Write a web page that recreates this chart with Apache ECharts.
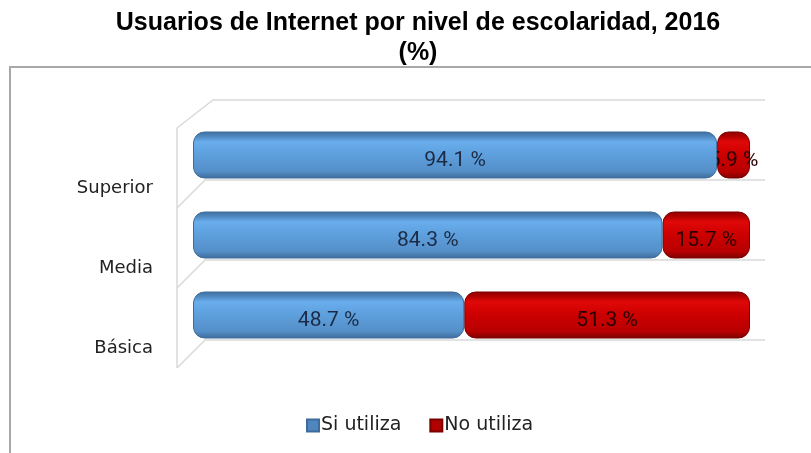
<!DOCTYPE html>
<html>
<head>
<meta charset="utf-8">
<script src="https://cdn.jsdelivr.net/npm/echarts@6/dist/echarts.min.js"></script>
<style>html,body{margin:0;padding:0;background:#fff}#c{width:811px;height:453px}</style>
</head>
<body>
<div id="c"></div>
<script>
const categories = ['Básica', 'Media', 'Superior'];
const siUtiliza = [48.7, 84.3, 94.1];
const noUtiliza = [51.3, 15.7, 5.9];
const seriesNames = ['Si utiliza', 'No utiliza'];
const titleText = 'Usuarios de Internet por nivel de escolaridad, 2016\n(%)';

const chart = echarts.init(document.getElementById('c'), null, {renderer: 'canvas'});

const blueGrad = new echarts.graphic.LinearGradient(0, 0, 0, 1, [
  {offset: 0, color: '#3f6f9f'},
  {offset: 0.1, color: '#4f86bd'},
  {offset: 0.22, color: '#69aded'},
  {offset: 0.5, color: '#5d9fdc'},
  {offset: 0.85, color: '#558fc8'},
  {offset: 1, color: '#3c6a98'}
]);
const redGrad = new echarts.graphic.LinearGradient(0, 0, 0, 1, [
  {offset: 0, color: '#8c0000'},
  {offset: 0.1, color: '#b00000'},
  {offset: 0.22, color: '#e00808'},
  {offset: 0.5, color: '#cc0000'},
  {offset: 0.85, color: '#b80000'},
  {offset: 1, color: '#7a0000'}
]);

const labelFont = {fontFamily: 'Roboto', fontSize: 21};

chart.setOption({
  animation: false,
  title: {
    text: titleText, left: 413, textAlign: 'center', top: 3, padding: 5,
    textStyle: {fontFamily: 'Liberation Sans', fontWeight: 'bold', fontSize: 25, lineHeight: 30, color: '#000'}
  },
  legend: {
    bottom: 13, left: 301, itemWidth: 12, itemHeight: 12, itemGap: 28,
    icon: 'rect',
    textStyle: {fontFamily: 'DejaVu Sans', fontSize: 19, color: '#222', padding: [0, 0, 0, -3]},
    data: [
      {name: seriesNames[0], itemStyle: {color: '#4f86bd'}},
      {name: seriesNames[1], itemStyle: {color: '#b00000'}}
    ]
  },
  grid: {left: 193, right: 61, top: 115, bottom: 98, containLabel: false},
  xAxis: {type: 'value', min: 0, max: 100, show: false},
  yAxis: {
    type: 'category', data: categories,
    axisLine: {show: false}, axisTick: {show: false}, splitLine: {show: false},
    axisLabel: {
      margin: 40, color: '#222', fontFamily: 'DejaVu Sans', fontSize: 18,
      verticalAlign: 'top', padding: [24, 0, 0, 0]
    }
  },
  graphic: [
    {type: 'rect', shape: {x: 10, y: 67, width: 900, height: 500}, style: {fill: 'none', stroke: '#a8a8a8', lineWidth: 2}, silent: true, z: -10},
    {type: 'polyline', shape: {points: [[177, 368], [177, 128], [213, 100], [765, 100]]}, style: {stroke: '#d9d9d9', lineWidth: 1.5, fill: 'none'}, z: -5},
    {type: 'polyline', shape: {points: [[177, 208], [205, 180], [765, 180]]}, style: {stroke: '#d9d9d9', lineWidth: 1.5, fill: 'none'}, z: -5},
    {type: 'polyline', shape: {points: [[177, 288], [205, 260], [765, 260]]}, style: {stroke: '#d9d9d9', lineWidth: 1.5, fill: 'none'}, z: -5},
    {type: 'polyline', shape: {points: [[177, 368], [205, 340], [765, 340]]}, style: {stroke: '#d9d9d9', lineWidth: 1.5, fill: 'none'}, z: -5}
  ],
  series: [
    {
      name: seriesNames[0], type: 'bar', stack: 'a', data: siUtiliza, barWidth: 47,
      itemStyle: {color: blueGrad, borderRadius: 11, borderColor: '#3d6c9c', borderWidth: 1},
      label: Object.assign({show: true, position: 'inside', offset: [0, 6], color: '#1c2b45', formatter: p => p.value.toFixed(1) + ' %'}, labelFont),
      z: 3
    },
    {
      name: seriesNames[1], type: 'bar', stack: 'a', data: noUtiliza, barWidth: 47,
      itemStyle: {color: redGrad, borderRadius: 11, borderColor: '#7a0000', borderWidth: 1},
      label: Object.assign({show: true, position: 'inside', offset: [0, 6], color: '#2a0000', formatter: p => p.value.toFixed(1) + ' %'}, labelFont),
      z: 2
    }
  ]
});
</script>
</body>
</html>
